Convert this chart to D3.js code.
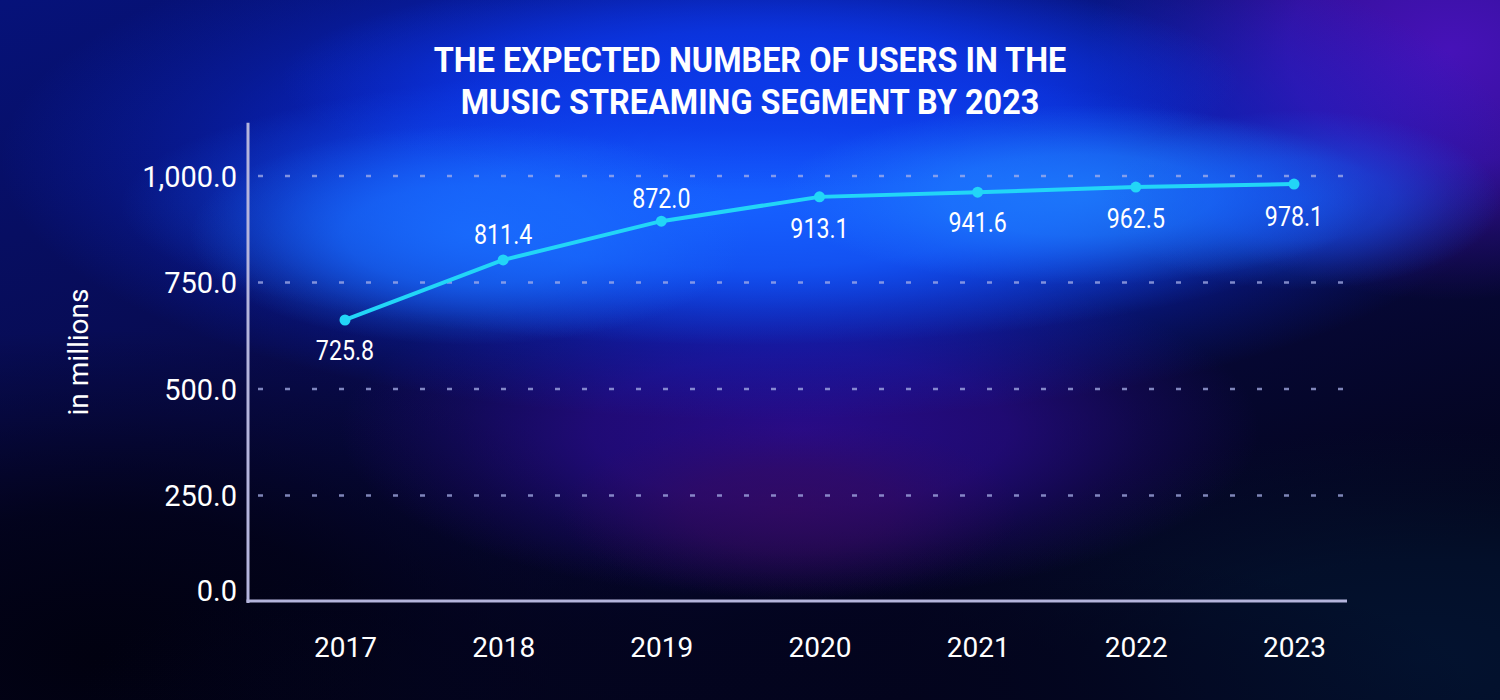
<!DOCTYPE html>
<html><head><meta charset="utf-8">
<script src="https://cdn.jsdelivr.net/npm/d3@7"></script>
<style>html,body{margin:0;padding:0;background:#05051f;}svg{display:block;}</style>
</head><body>
<svg id="chart" width="1500" height="700"></svg>
<script>
const years = ["2017","2018","2019","2020","2021","2022","2023"];
const values = [662, 803, 894, 951, 962, 974, 981];
const labels = ["725.8","811.4","872.0","913.1","941.6","962.5","978.1"];
const yTicks = [0, 250, 500, 750, 1000];
const titleLines = ["THE EXPECTED NUMBER OF USERS IN THE", "MUSIC STREAMING SEGMENT BY 2023"];
const yAxisTitle = "in millions";

const svg = d3.select("#chart");
const W = 1500, H = 700;
const defs = svg.append("defs");

// background
const bg = defs.append("linearGradient").attr("id","bgGrad").attr("x1",0).attr("y1",0).attr("x2",0.6).attr("y2",1);
bg.append("stop").attr("offset","0%").attr("stop-color","#06127a");
bg.append("stop").attr("offset","50%").attr("stop-color","#080a4a");
bg.append("stop").attr("offset","100%").attr("stop-color","#030418");
svg.append("rect").attr("width",W).attr("height",H).attr("fill","url(#bgGrad)");

let gid = 0;
function blob(cx, cy, rx, ry, color, op) {
  const id = "rg" + (gid++);
  const g = defs.append("radialGradient").attr("id", id);
  g.append("stop").attr("offset","0%").attr("stop-color",color).attr("stop-opacity",op);
  g.append("stop").attr("offset","45%").attr("stop-color",color).attr("stop-opacity",op*0.75);
  g.append("stop").attr("offset","75%").attr("stop-color",color).attr("stop-opacity",op*0.3);
  g.append("stop").attr("offset","100%").attr("stop-color",color).attr("stop-opacity",0);
  svg.append("ellipse").attr("cx",cx).attr("cy",cy).attr("rx",rx).attr("ry",ry).attr("fill",`url(#${id})`);
}
// dark lower areas
blob(100, 660, 600, 330, "#010110", 1);
blob(1420, 660, 520, 230, "#031432", 0.9);
blob(780, 690, 700, 160, "#03041e", 0.9);
// purple areas
blob(1450, 50, 360, 250, "#4612b8", 1);
blob(800, 430, 460, 170, "#2e0c96", 0.85);
blob(790, 510, 230, 90, "#3a0a5a", 0.6);
// blue glow
blob(760, 160, 760, 260, "#0a30f0", 1);
blob(740, 205, 620, 140, "#1660ff", 1);
blob(760, 80, 480, 110, "#0c3ae8", 0.9);
blob(1080, 195, 300, 90, "#1f80ff", 0.8);
blob(470, 235, 280, 110, "#1a70ff", 0.8);
blob(1300, 200, 200, 90, "#1660ff", 0.6);

// scales
const x = d3.scalePoint().domain(years).range([345, 1294]);
const y = d3.scaleLinear().domain([0, 1000]).range([602, 176]);

// gridlines
svg.append("g").selectAll("line").data(yTicks.filter(d => d > 0)).join("line")
  .attr("x1", 258).attr("x2", 1346)
  .attr("y1", d => y(d)).attr("y2", d => y(d))
  .attr("stroke", "#a8b0e8").attr("stroke-opacity", 0.75)
  .attr("stroke-width", 2.5).attr("stroke-dasharray", "5 22");

// y axis
const yAxis = d3.axisLeft(y).tickValues(yTicks).tickSize(0).tickPadding(0)
  .tickFormat(d => d3.format(",.1f")(d));
const gy = svg.append("g").attr("transform","translate(248,0)").call(yAxis);
gy.select(".domain").remove();
gy.selectAll("text").attr("x", -11).attr("dy", "0.35em")
  .attr("fill","#ffffff").style("font-family","Roboto, sans-serif").style("font-size","29px");
gy.selectAll(".tick").filter(d => d === 0).select("text").attr("dy","-0.05em");
svg.append("line").attr("x1",248).attr("x2",248).attr("y1",y(1125)).attr("y2",603)
  .attr("stroke","#b4b4dc").attr("stroke-width",3);

// x axis
const xAxis = d3.axisBottom(x).tickSize(0).tickPadding(0);
const gx = svg.append("g").attr("transform","translate(0,601)").call(xAxis);
gx.select(".domain").remove();
gx.selectAll("text").attr("y", 0).attr("dy","56px")
  .attr("fill","#ffffff").style("font-family","Roboto, sans-serif").style("font-size","28px");
svg.append("line").attr("x1",246.5).attr("x2",1347).attr("y1",601).attr("y2",601)
  .attr("stroke","#b4b4dc").attr("stroke-width",3);

// axis title
svg.append("text").attr("transform","translate(88,352) rotate(-90)")
  .attr("text-anchor","middle").attr("fill","#ffffff")
  .style("font-family","Roboto, sans-serif").style("font-size","28px").text(yAxisTitle);

// line
const data = years.map((yr,i) => ({year: yr, value: values[i], label: labels[i]}));
svg.append("path").datum(data)
  .attr("d", d3.line().x(d => x(d.year)).y(d => y(d.value)))
  .attr("fill","none").attr("stroke","#22d6f7").attr("stroke-width",4);
svg.append("g").selectAll("circle").data(data).join("circle")
  .attr("cx", d => x(d.year)).attr("cy", d => y(d.value)).attr("r", 5.5)
  .attr("fill","#22d6f7");

// data labels
const labelOffsets = [31, -25, -23, 32, 30, 31, 32];
svg.append("g").selectAll("text").data(data).join("text")
  .attr("transform", (d,i) => `translate(${x(d.year)},${y(d.value) + labelOffsets[i]}) scale(0.86,1)`)
  .attr("text-anchor","middle").attr("dy","0.35em")
  .attr("fill","#ffffff").style("font-family","Roboto, sans-serif").style("font-size","27px")
  .text(d => d.label);

// title
const title = svg.append("g").attr("transform","translate(750,0)");
titleLines.forEach((t,i) => {
  title.append("text").attr("transform", `translate(0,${72 + i*42}) scale(0.9,1)`)
    .attr("text-anchor","middle").attr("fill","#ffffff")
    .style("font-family","Roboto, sans-serif").style("font-weight","700").style("font-size","36px")
    .text(t);
});
</script>
</body></html>
